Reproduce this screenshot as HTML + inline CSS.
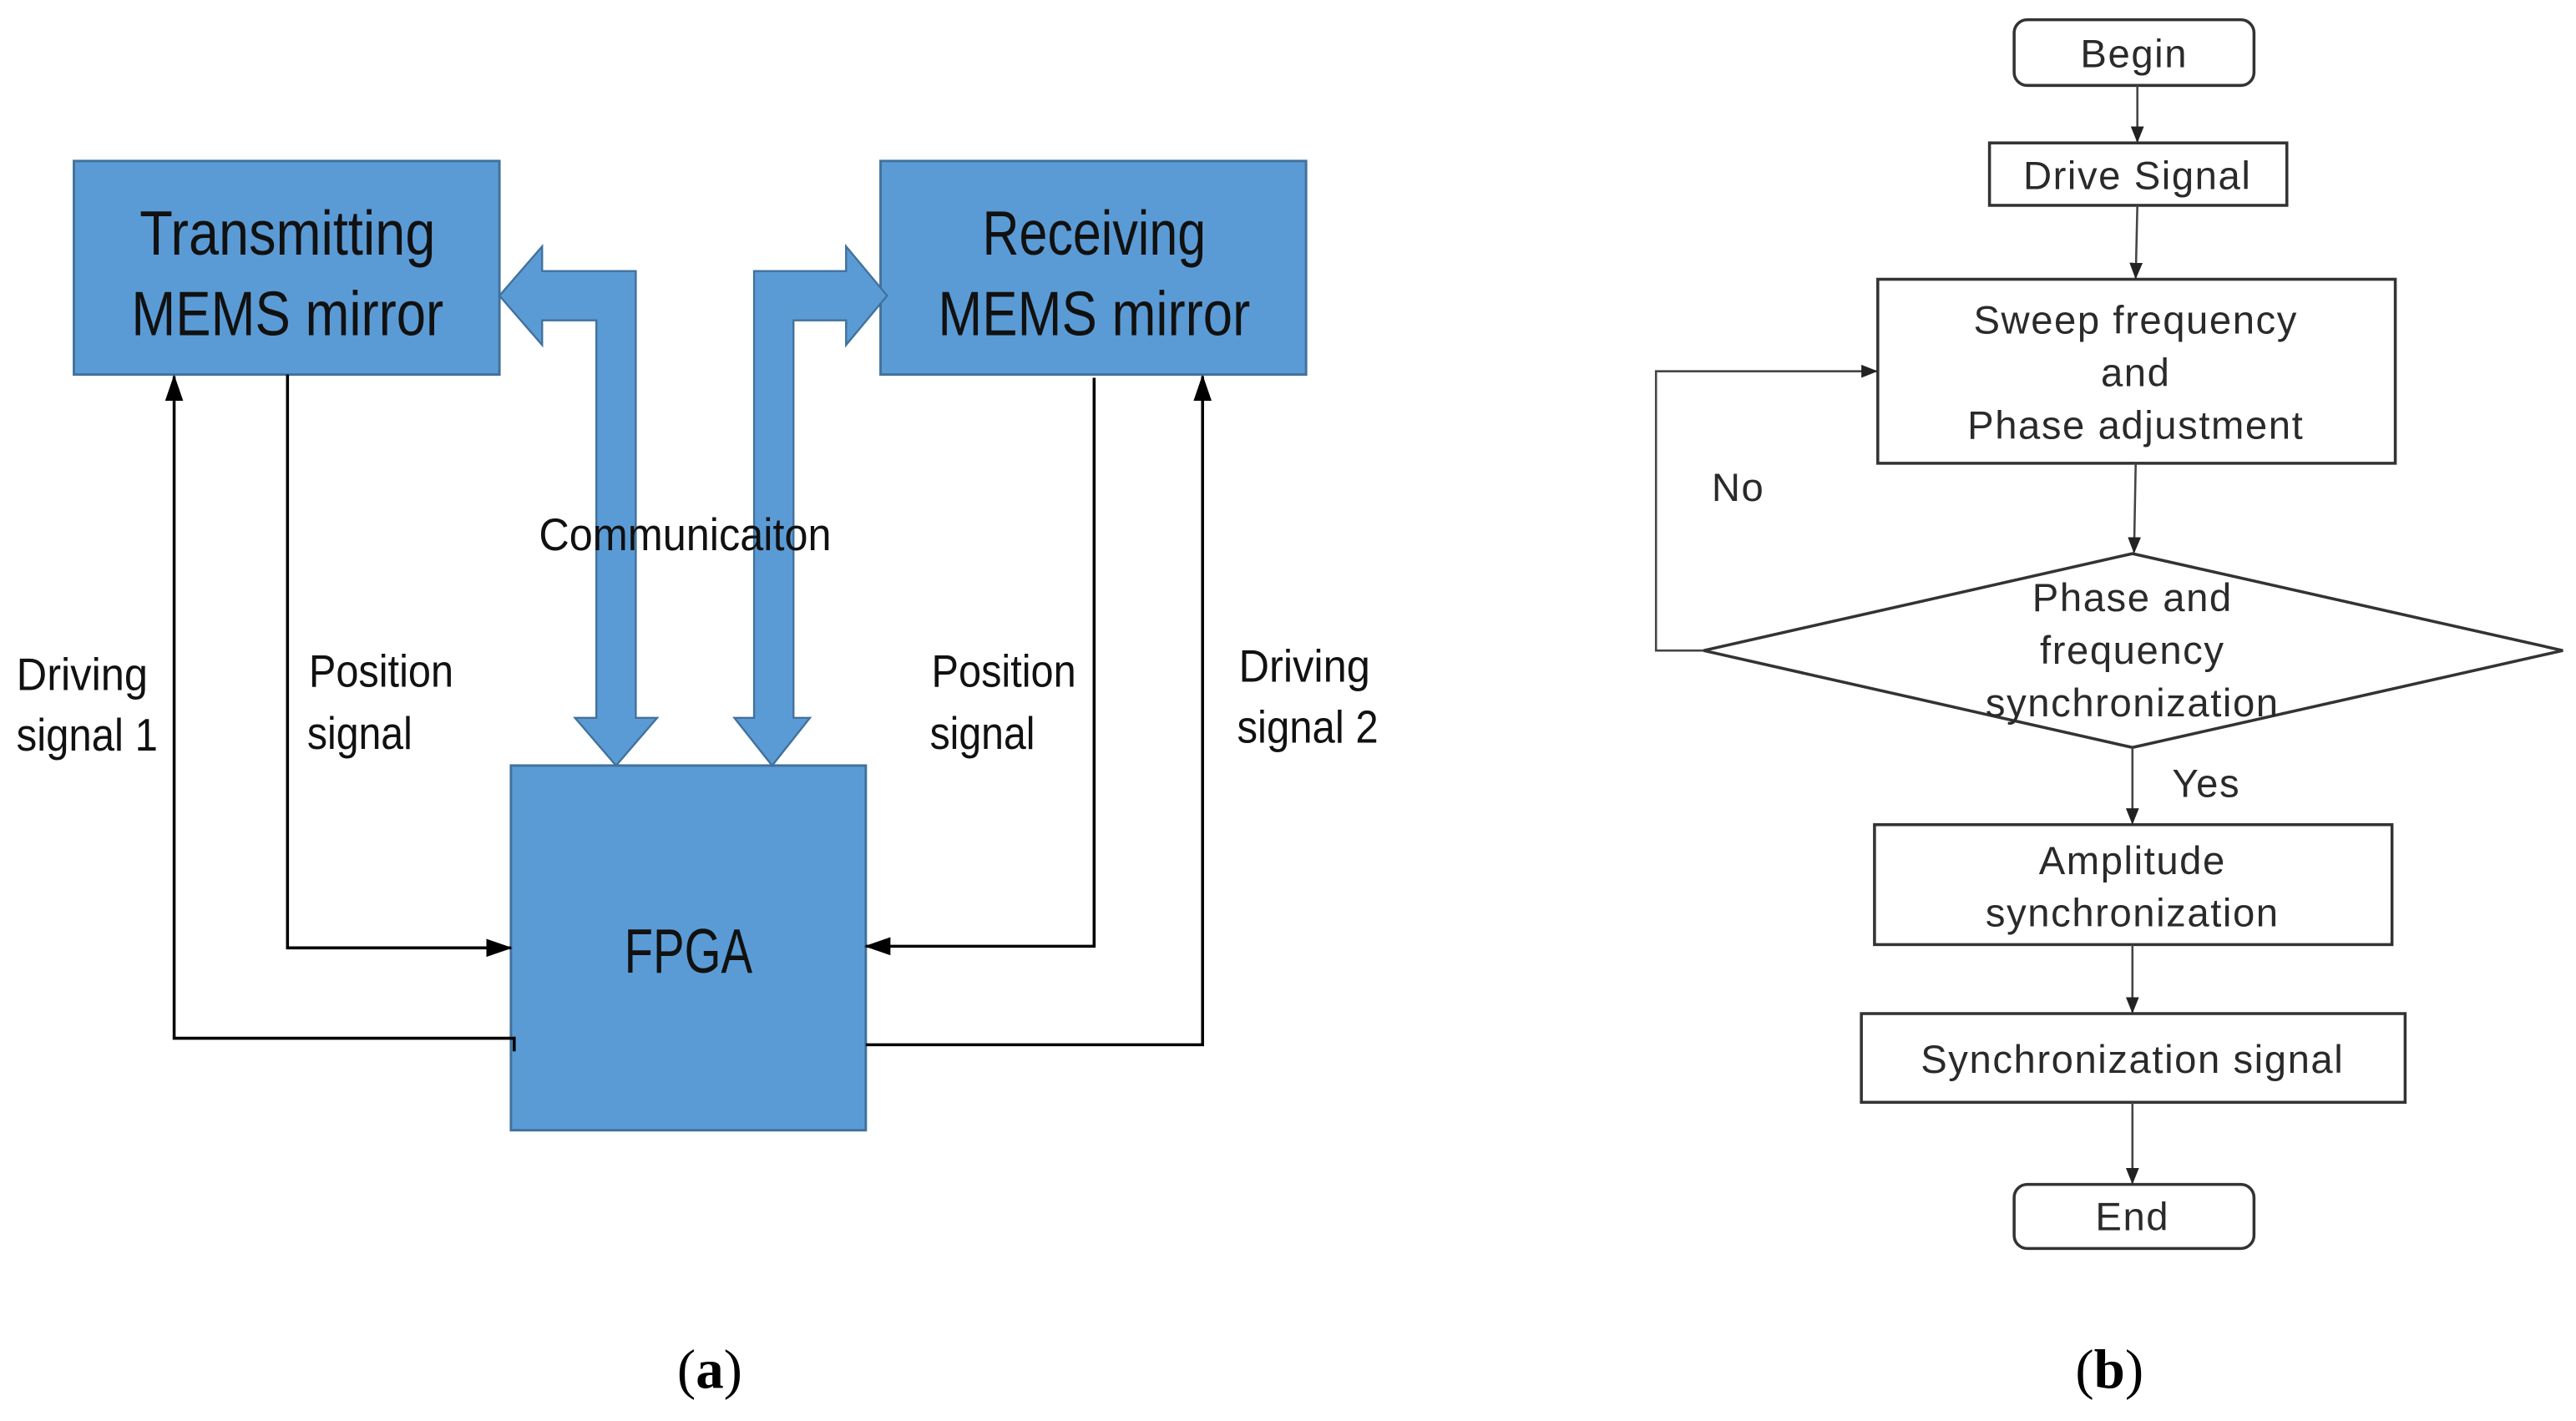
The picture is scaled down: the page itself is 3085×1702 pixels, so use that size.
<!DOCTYPE html>
<html><head><meta charset="utf-8"><style>
html,body{margin:0;padding:0;background:#fff;}
svg{display:block;}
</style></head><body>
<svg width="3085" height="1702" viewBox="0 0 1568 865" preserveAspectRatio="none" xmlns="http://www.w3.org/2000/svg">
<defs>
<marker id="ah" markerWidth="16" markerHeight="14" refX="15" refY="7" orient="auto" markerUnits="userSpaceOnUse"><path d="M0,1.5 L16,7 L0,12.5 z" fill="#000"/></marker>
<marker id="ag" markerWidth="10" markerHeight="10" refX="9" refY="5" orient="auto" markerUnits="userSpaceOnUse"><path d="M0,1 L10,5 L0,9 z" fill="#222"/></marker>
</defs>
<g font-family="Liberation Sans, sans-serif">
<rect x="45" y="98" width="259" height="130" fill="#5b9bd5" stroke="#41719c" stroke-width="1.5"/>
<rect x="536" y="98" width="259" height="130" fill="#5b9bd5" stroke="#41719c" stroke-width="1.5"/>
<rect x="311" y="466" width="216" height="222" fill="#5b9bd5" stroke="#41719c" stroke-width="1.5"/>
<polygon points="304,180 330,150 330,165 387,165 387,437 400,437 375,466 350,437 363,437 363,195 330,195 330,210" fill="#5b9bd5" stroke="#41719c" stroke-width="1.2"/>
<polygon points="540,180 515,150 515,165 459,165 459,437 447,437 470,466 493,437 483,437 483,195 515,195 515,210" fill="#5b9bd5" stroke="#41719c" stroke-width="1.2"/>
<g font-size="38" fill="#111" text-anchor="middle">
<text x="175" y="155" textLength="180" lengthAdjust="spacingAndGlyphs">Transmitting</text>
<text x="175" y="204" textLength="190" lengthAdjust="spacingAndGlyphs">MEMS mirror</text>
<text x="666" y="155" textLength="136" lengthAdjust="spacingAndGlyphs">Receiving</text>
<text x="666" y="204" textLength="190" lengthAdjust="spacingAndGlyphs">MEMS mirror</text>
<text x="419" y="592" textLength="78" lengthAdjust="spacingAndGlyphs">FPGA</text>
</g>
<g fill="none" stroke="#000" stroke-width="1.8">
<polyline points="313,640 313,632 106,632 106,229" marker-end="url(#ah)"/>
<polyline points="175,228 175,577 311,577" marker-end="url(#ah)"/>
<polyline points="666,230 666,576 527,576" marker-end="url(#ah)"/>
<polyline points="527,636 732,636 732,229" marker-end="url(#ah)"/>
</g>
<g font-size="28" fill="#111">
<text x="10" y="420" textLength="80" lengthAdjust="spacingAndGlyphs">Driving</text>
<text x="10" y="457" textLength="86" lengthAdjust="spacingAndGlyphs">signal 1</text>
<text x="188" y="418" textLength="88" lengthAdjust="spacingAndGlyphs">Position</text>
<text x="187" y="456" textLength="64" lengthAdjust="spacingAndGlyphs">signal</text>
<text x="567" y="418" textLength="88" lengthAdjust="spacingAndGlyphs">Position</text>
<text x="566" y="456" textLength="64" lengthAdjust="spacingAndGlyphs">signal</text>
<text x="754" y="415" textLength="80" lengthAdjust="spacingAndGlyphs">Driving</text>
<text x="753" y="452" textLength="86" lengthAdjust="spacingAndGlyphs">signal 2</text>
<text x="328" y="335" textLength="178" lengthAdjust="spacingAndGlyphs">Communicaiton</text>
</g>
<g fill="none" stroke="#333" stroke-width="1.8">
<rect x="1226" y="12" width="146" height="40" rx="8"/>
<rect x="1211" y="87" width="181" height="38"/>
<rect x="1143" y="170" width="315" height="112"/>
<polygon points="1037,396 1298,337 1560,396 1298,455"/>
<rect x="1141" y="502" width="315" height="73"/>
<rect x="1133" y="617" width="331" height="54"/>
<rect x="1226" y="721" width="146" height="39" rx="8"/>
</g>
<g fill="none" stroke="#444" stroke-width="1.3">
<line x1="1301" y1="52" x2="1301" y2="86" marker-end="url(#ag)"/>
<line x1="1301" y1="125" x2="1300" y2="169" marker-end="url(#ag)"/>
<line x1="1300" y1="282" x2="1299" y2="336" marker-end="url(#ag)"/>
<line x1="1298" y1="455" x2="1298" y2="501" marker-end="url(#ag)"/>
<line x1="1298" y1="575" x2="1298" y2="616" marker-end="url(#ag)"/>
<line x1="1298" y1="671" x2="1298" y2="720" marker-end="url(#ag)"/>
<polyline points="1037,396 1008,396 1008,226 1142,226" marker-end="url(#ag)"/>
</g>
<g font-size="24" fill="#2a2a2a" text-anchor="middle" letter-spacing="0.8">
<text x="1299" y="41">Begin</text>
<text x="1301" y="115">Drive Signal</text>
<text x="1300" y="203">Sweep frequency</text>
<text x="1300" y="235">and</text>
<text x="1300" y="267">Phase adjustment</text>
<text x="1298" y="372">Phase and</text>
<text x="1298" y="404">frequency</text>
<text x="1298" y="436">synchronization</text>
<text x="1298" y="532">Amplitude</text>
<text x="1298" y="564">synchronization</text>
<text x="1298" y="653">Synchronization signal</text>
<text x="1298" y="749">End</text>
<text x="1058" y="305">No</text>
<text x="1343" y="485">Yes</text>
</g>
<g font-family="Liberation Serif, serif" font-size="34" fill="#000" text-anchor="middle">
<text x="432" y="845">(<tspan font-weight="bold">a</tspan>)</text>
<text x="1284" y="845">(<tspan font-weight="bold">b</tspan>)</text>
</g>
</g>
</svg>
</body></html>
